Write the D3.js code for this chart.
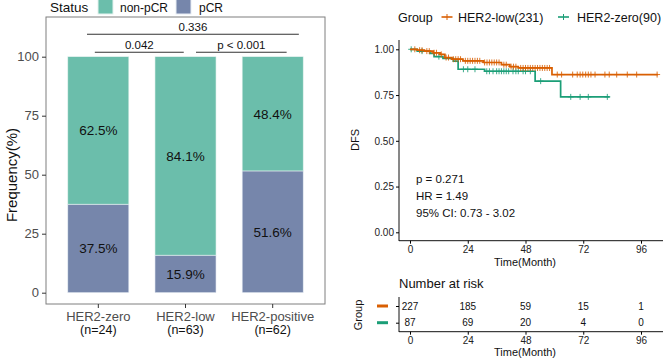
<!DOCTYPE html>
<html>
<head>
<meta charset="utf-8">
<script src="https://cdn.jsdelivr.net/npm/d3@7"></script>
<style>
  body { margin: 0; background: #fff; }
  svg { font-family: "Liberation Sans", Arial, sans-serif; }
</style>
</head>
<body>
<svg id="chart" width="665" height="361"></svg>
<script>
// ---- bar chart data ----
var groups = ["HER2-zero", "HER2-low", "HER2-positive"];
var groupN = ["(n=24)", "(n=63)", "(n=62)"];
var pcr = [37.5, 15.9, 51.6];
var nonPcr = [62.5, 84.1, 48.4];
var yTicks = [0, 25, 50, 75, 100];
var sigLabels = ["0.336", "0.042", "p < 0.001"];
var sigFrom = [-0.13, -0.04, 1.12];
var sigTo = [2.3, 0.98, 2.16];
var sigLevel = [109.5, 101.9, 101.9];

// ---- KM data ----
// steps: [time, survival after drop]
var lowSteps = [[0,1],[3,0.995],[6,0.99],[9.7,0.981],[12.5,0.972],[14.5,0.955],[17.4,0.946],[22,0.937],[30.5,0.928],[38,0.916],[41.5,0.905],[45,0.898],[59,0.862]];
var lowEnd = 103;
var lowCensor = [2,4,5,7,8,10,11,13,15,16,18,19,20,21,23,24,25,26,27,28,29,31,32,33,34,35,36,37,39,40,42,43,44,46,47,48,49,50,51,52,53,54,55,56,57,58,61.2,63,67.6,69.5,70.7,71.8,73,74.1,75.2,76.9,81,82.8,85.9,90.3,94.2,102.7];
var zeroSteps = [[0,1],[3,0.99],[8.3,0.978],[10,0.96],[13.7,0.95],[18,0.935],[20,0.891],[31,0.88],[52,0.826],[62.6,0.74]];
var zeroEnd = 83;
var zeroCensor = [0.5,5,12,22.2,24,27,31.9,33,34.5,36,37,38,39,40,41,42.8,44,45,47,48,50,54.3,66.8,70.7,74.1,82];
var kmTicksX = [0, 24, 48, 72, 96];
var kmTicksY = [0, 0.25, 0.5, 0.75, 1];
var riskLow = [227, 185, 59, 15, 1];
var riskZero = [87, 69, 20, 4, 0];
var statsText = ["p = 0.271", "HR = 1.49", "95% CI: 0.73 - 3.02"];

var green = "#6bbeab", purple = "#7686ab";
var orange = "#d95f02", teal = "#1b9e77";

var svg = d3.select("#chart");

//==========
// Bar chart
//==========
var x = d3.scaleBand().domain(groups).range([46, 325]).paddingInner(0.3).paddingOuter(0.25);
var xc = d3.scaleLinear().domain([-0.6, 2.6]).range([46, 325]);
var y = d3.scaleLinear().domain([0, 100]).range([292.7, 56.7]);

var left = svg.append("g");

left.append("rect").attr("x", 46).attr("y", 17).attr("width", 279).attr("height", 287)
  .attr("fill", "none").attr("stroke", "#7f7f7f").attr("stroke-width", 1);

var bars = left.append("g");
groups.forEach(function(g, i) {
  bars.append("rect").attr("x", x(g)).attr("width", x.bandwidth())
    .attr("y", y(pcr[i])).attr("height", y(0) - y(pcr[i]))
    .attr("fill", purple).attr("stroke", "#e8edf4").attr("stroke-width", 0.6);
  bars.append("rect").attr("x", x(g)).attr("width", x.bandwidth())
    .attr("y", y(100)).attr("height", y(pcr[i]) - y(100))
    .attr("fill", green).attr("stroke", "#e4f2ee").attr("stroke-width", 0.6);
  bars.append("text").attr("x", x(g) + x.bandwidth() / 2).attr("y", y(pcr[i] / 2))
    .attr("dy", "0.36em").attr("text-anchor", "middle").attr("font-size", 13.5)
    .attr("fill", "#111").text(pcr[i].toFixed(1) + "%");
  bars.append("text").attr("x", x(g) + x.bandwidth() / 2).attr("y", y(pcr[i] + nonPcr[i] / 2))
    .attr("dy", "0.36em").attr("text-anchor", "middle").attr("font-size", 13.5)
    .attr("fill", "#111").text(nonPcr[i].toFixed(1) + "%");
});

// y axis
var yAxis = left.append("g").attr("transform", "translate(46,0)")
  .call(d3.axisLeft(y).tickValues(yTicks).tickSize(4).tickPadding(3));
yAxis.select(".domain").remove();
yAxis.selectAll("line").attr("stroke", "#333");
yAxis.selectAll("text").attr("font-size", 13).attr("fill", "#4d4d4d").attr("font-family", "Liberation Sans, Arial, sans-serif");

// x axis
var xAxis = left.append("g").attr("transform", "translate(0,304)")
  .call(d3.axisBottom(x).tickSize(4).tickPadding(3));
xAxis.select(".domain").remove();
xAxis.selectAll("line").attr("stroke", "#333");
xAxis.selectAll("text").remove();
groups.forEach(function(g, i) {
  left.append("text").attr("x", x(g) + x.bandwidth() / 2).attr("y", 320.5)
    .attr("text-anchor", "middle").attr("font-size", 13).attr("fill", "#4d4d4d").text(g);
  left.append("text").attr("x", x(g) + x.bandwidth() / 2).attr("y", 334)
    .attr("text-anchor", "middle").attr("font-size", 12.5).attr("fill", "#111").text(groupN[i]);
});

left.append("text").attr("transform", "translate(17,175) rotate(-90)")
  .attr("text-anchor", "middle").attr("font-size", 15).attr("fill", "#111").text("Frequency(%)");

// significance brackets
sigLabels.forEach(function(lab, i) {
  var yy = y(sigLevel[i]);
  left.append("line").attr("x1", xc(sigFrom[i])).attr("x2", xc(sigTo[i]))
    .attr("y1", yy).attr("y2", yy).attr("stroke", "#333").attr("stroke-width", 1.1);
  left.append("text").attr("x", (xc(sigFrom[i]) + xc(sigTo[i])) / 2).attr("y", yy - 3)
    .attr("text-anchor", "middle").attr("font-size", 11.5).attr("fill", "#111").text(lab);
});

// legend
left.append("text").attr("x", 50).attr("y", 11.5).attr("font-size", 13.5).attr("fill", "#111").text("Status");
left.append("rect").attr("x", 98).attr("y", -1).attr("width", 15).attr("height", 15).attr("fill", green).attr("stroke", "#e4f2ee");
left.append("text").attr("x", 120).attr("y", 11.5).attr("font-size", 12).attr("fill", "#111").text("non-pCR");
left.append("rect").attr("x", 176).attr("y", -1).attr("width", 15).attr("height", 15).attr("fill", purple).attr("stroke", "#e8edf4");
left.append("text").attr("x", 199).attr("y", 11.5).attr("font-size", 12).attr("fill", "#111").text("pCR");

//==========
// KM plot
//==========
var kx = d3.scaleLinear().domain([0, 96]).range([410, 641]);
var ky = d3.scaleLinear().domain([0, 1]).range([232.3, 49.3]);
var right = svg.append("g");

function survAt(steps, t) {
  var s = 1;
  steps.forEach(function(d) { if (d[0] <= t) s = d[1]; });
  return s;
}

function drawCurve(steps, end, censor, col) {
  var pts = steps.concat([[end, steps[steps.length - 1][1]]]);
  var line = d3.line().x(function(d) { return kx(d[0]); }).y(function(d) { return ky(d[1]); })
    .curve(d3.curveStepAfter);
  right.append("path").attr("d", line(pts)).attr("fill", "none")
    .attr("stroke", col).attr("stroke-width", 1.7);
  var g = right.append("g").attr("stroke", col).attr("stroke-width", 1).attr("opacity", 0.85);
  censor.forEach(function(t) {
    var cx = kx(t), cy = ky(survAt(steps, t));
    g.append("line").attr("x1", cx - 3).attr("x2", cx + 3).attr("y1", cy).attr("y2", cy);
    g.append("line").attr("x1", cx).attr("x2", cx).attr("y1", cy - 3).attr("y2", cy + 3);
  });
}
drawCurve(zeroSteps, zeroEnd, zeroCensor, teal);
drawCurve(lowSteps, lowEnd, lowCensor, orange);

// axes
right.append("line").attr("x1", 399).attr("x2", 399).attr("y1", 40).attr("y2", 241).attr("stroke", "#111");
right.append("line").attr("x1", 399).attr("x2", 663).attr("y1", 240.7).attr("y2", 240.7).attr("stroke", "#111");
var kyAxis = right.append("g").attr("transform", "translate(399,0)")
  .call(d3.axisLeft(ky).tickValues(kmTicksY).tickFormat(d3.format(".2f")).tickSize(3).tickPadding(2));
kyAxis.select(".domain").remove();
kyAxis.selectAll("text").attr("font-size", 10).attr("fill", "#222").attr("font-family", "Liberation Sans, Arial, sans-serif");
var kxAxis = right.append("g").attr("transform", "translate(0,240.7)")
  .call(d3.axisBottom(kx).tickValues(kmTicksX).tickSize(3).tickPadding(2));
kxAxis.select(".domain").remove();
kxAxis.selectAll("text").attr("font-size", 10).attr("fill", "#222").attr("font-family", "Liberation Sans, Arial, sans-serif");

right.append("text").attr("x", 525).attr("y", 266).attr("text-anchor", "middle")
  .attr("font-size", 11).attr("fill", "#111").text("Time(Month)");
right.append("text").attr("transform", "translate(359,140) rotate(-90)").attr("text-anchor", "middle")
  .attr("font-size", 11).attr("fill", "#111").text("DFS");

statsText.forEach(function(s, i) {
  right.append("text").attr("x", 416).attr("y", 183 + i * 17)
    .attr("font-size", 11.5).attr("fill", "#111").text(s);
});

// legend
right.append("text").attr("x", 398).attr("y", 21.5).attr("font-size", 12.5).attr("fill", "#111").text("Group");
[[441.5, orange, "HER2-low(231)", 458], [558, teal, "HER2-zero(90)", 577]].forEach(function(d) {
  right.append("line").attr("x1", d[0]).attr("x2", d[0] + 11).attr("y1", 17).attr("y2", 17)
    .attr("stroke", d[1]).attr("stroke-width", 1.6);
  right.append("line").attr("x1", d[0] + 5.5).attr("x2", d[0] + 5.5).attr("y1", 14).attr("y2", 20)
    .attr("stroke", d[1]).attr("stroke-width", 1);
  right.append("text").attr("x", d[3]).attr("y", 21.5).attr("font-size", 12.5).attr("fill", "#111").text(d[2]);
});

// risk table
var ry = d3.scalePoint().domain(["low", "zero"]).range([306, 322.7]);
right.append("text").attr("x", 399).attr("y", 287.5).attr("font-size", 13).attr("fill", "#111").text("Number at risk");
right.append("line").attr("x1", 399).attr("x2", 399).attr("y1", 297).attr("y2", 332).attr("stroke", "#111");
right.append("line").attr("x1", 399).attr("x2", 663).attr("y1", 331.7).attr("y2", 331.7).attr("stroke", "#111");
var rAxis = right.append("g").attr("transform", "translate(399,0)")
  .call(d3.axisLeft(ry).tickSize(3).tickFormat(""));
rAxis.select(".domain").remove();
var rxAxis = right.append("g").attr("transform", "translate(0,331.7)")
  .call(d3.axisBottom(kx).tickValues(kmTicksX).tickSize(3).tickPadding(2));
rxAxis.select(".domain").remove();
rxAxis.selectAll("text").attr("font-size", 10).attr("fill", "#222").attr("font-family", "Liberation Sans, Arial, sans-serif");
right.append("text").attr("x", 525).attr("y", 355.5).attr("text-anchor", "middle")
  .attr("font-size", 11).attr("fill", "#111").text("Time(Month)");
right.append("text").attr("transform", "translate(362,315) rotate(-90)").attr("text-anchor", "middle")
  .attr("font-size", 11).attr("fill", "#111").text("Group");
[["low", orange, riskLow], ["zero", teal, riskZero]].forEach(function(d) {
  right.append("line").attr("x1", 377).attr("x2", 388).attr("y1", ry(d[0])).attr("y2", ry(d[0]))
    .attr("stroke", d[1]).attr("stroke-width", 3);
  d[2].forEach(function(v, i) {
    right.append("text").attr("x", kx(kmTicksX[i])).attr("y", ry(d[0])).attr("dy", "0.36em")
      .attr("text-anchor", "middle").attr("font-size", 10).attr("fill", "#111").text(v);
  });
});
</script>
</body>
</html>
